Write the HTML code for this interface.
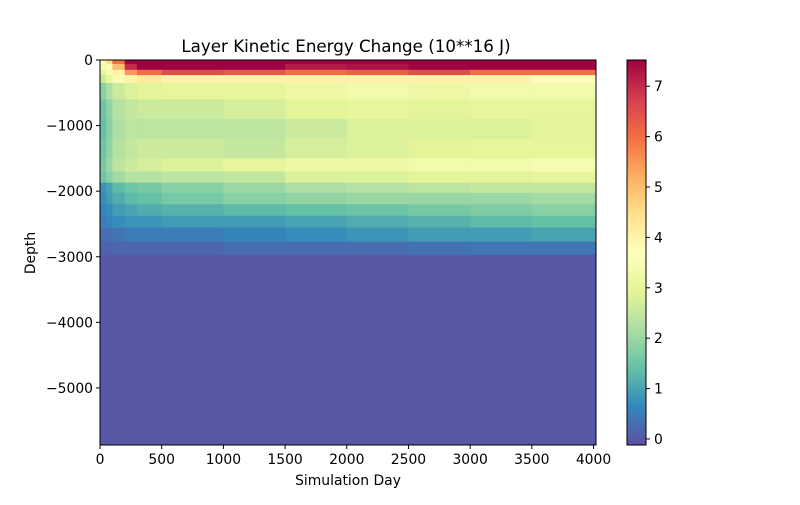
<!DOCTYPE html>
<html><head><meta charset="utf-8">
<style>
body{margin:0;background:#fff;}
svg text{font-family:"DejaVu Sans","Liberation Sans",sans-serif;font-size:13.9px;fill:#000;}
</style></head>
<body>
<svg id="chart" width="800" height="500" xmlns="http://www.w3.org/2000/svg">
<defs>
<linearGradient id="cbgrad" x1="0" y1="1" x2="0" y2="0">
<stop offset="0" stop-color="#5e4fa2"/><stop offset="0.1" stop-color="#3288bd"/>
<stop offset="0.2" stop-color="#66c2a5"/><stop offset="0.3" stop-color="#abdda4"/>
<stop offset="0.4" stop-color="#e6f598"/><stop offset="0.5" stop-color="#ffffbf"/>
<stop offset="0.6" stop-color="#fee08b"/><stop offset="0.7" stop-color="#fdae61"/>
<stop offset="0.8" stop-color="#f46d43"/><stop offset="0.9" stop-color="#d53e4f"/>
<stop offset="1" stop-color="#9e0142"/>
</linearGradient>
</defs>
<g id="cells"></g>
<g id="axes"></g>
<text x="346" y="52" text-anchor="middle" style="font-size:16.7px">Layer Kinetic Energy  Change (10**16 J)</text>
<text x="348" y="485" text-anchor="middle">Simulation Day</text>
<text x="35" y="253" text-anchor="middle" transform="rotate(-90 35 253)">Depth</text>
<rect x="627" y="60" width="19" height="385" fill="url(#cbgrad)" stroke="#000" stroke-width="1"/>
<g id="cbticks"></g>
</svg>
<script>
const timeEdges=[0,50,100,200,300,500,1000,1500,2000,2500,3000,3500,4020];
const depthEdges=[0,60,150,230,350,600,900,1200,1500,1700,1870,2025,2200,2375,2555,2770,2970,5870];
const values=[
[3.6,4.5,6,7.5,7.5,7.5,7.5,7.5,7.5,7.5,7.5,7.5],
[3.4,3.8,5,7,7.5,7.5,7.5,7.2,7.3,7.5,7.5,7.5],
[3,3.4,4,5.5,6,6.5,6.3,6,6.2,6.5,6,6],
[2.6,3,3.5,4,4.2,4,4,4,4,4,4,3.8],
[1.8,2.2,2.6,2.8,2.9,3,3,3.2,3.3,3.2,3.3,3.3],
[1.5,1.9,2.3,2.5,2.6,2.6,2.7,2.9,3,2.9,3,3],
[1.4,1.8,2.2,2.4,2.4,2.4,2.4,2.6,2.8,2.8,2.8,2.9],
[1.5,1.9,2.3,2.5,2.6,2.6,2.5,2.7,2.8,2.9,3,3],
[1.6,2,2.4,2.6,2.7,2.8,3,3.2,3.2,3.3,3.3,3.4],
[1.5,1.8,2.1,2.3,2.3,2.4,2.5,2.8,2.8,2.9,2.9,3],
[0.8,1,1.3,1.5,1.6,1.8,2,2.2,2.3,2.4,2.5,2.5],
[0.7,0.9,1.1,1.3,1.4,1.6,1.8,1.9,2,2,2,2.1],
[0.6,0.7,0.9,1,1.1,1.2,1.3,1.4,1.5,1.6,1.7,1.8],
[0.5,0.6,0.7,0.8,0.8,0.9,0.9,1,1.1,1.2,1.3,1.4],
[0.3,0.3,0.4,0.5,0.5,0.5,0.6,0.7,0.8,0.9,0.9,1],
[0.15,0.15,0.2,0.2,0.2,0.2,0.3,0.3,0.3,0.35,0.4,0.4],
[0,0,0,0,0,0,0,0,0,0,0,0]
];
const xTicks=[0,500,1000,1500,2000,2500,3000,3500,4000];
const yTicks=[0,-1000,-2000,-3000,-4000,-5000];
const cbTicks=[0,1,2,3,4,5,6,7];
const NS="http://www.w3.org/2000/svg";
const X0=100,X1=596,Y0=60,Y1=445;
const xScale=d=>X0+d*(X1-X0)/4020;
const yScale=z=>Y0+(-z)*(Y1-Y0)/5870;
const VMIN=-0.12,VMAX=7.52;
const cScale=v=>445-(v-VMIN)*385/(VMAX-VMIN);
const stops=["#5e4fa2","#3288bd","#66c2a5","#abdda4","#e6f598","#ffffbf","#fee08b","#fdae61","#f46d43","#d53e4f","#9e0142"];
function hex(h){return [1,3,5].map(i=>parseInt(h.substr(i,2),16));}
function cmap(v){let t=(v-VMIN)/(VMAX-VMIN);t=Math.max(0,Math.min(1,t))*10;const i=Math.min(9,Math.floor(t));const f=t-i;const a=hex(stops[i]),b=hex(stops[i+1]);return "rgb("+a.map((c,k)=>Math.round(c+(b[k]-c)*f)).join(",")+")";}
function mk(tag,attrs,parent){const e=document.createElementNS(NS,tag);for(const k in attrs)e.setAttribute(k,attrs[k]);parent.appendChild(e);return e;}
const cells=document.getElementById("cells");
values.forEach((row,li)=>{row.forEach((v,ti)=>{
 const x=xScale(timeEdges[ti]),x2=xScale(timeEdges[ti+1]);
 const y=yScale(-depthEdges[li]),y2=yScale(-depthEdges[li+1]);
 const r=mk("rect",{x:x,y:y,width:x2-x+0.5,height:y2-y+0.5,fill:cmap(v)},cells);
 
 
});});
const axes=document.getElementById("axes");
const fr=mk("rect",{x:X0,y:Y0,width:X1-X0,height:Y1-Y0,fill:"none",stroke:"#000","stroke-width":1},axes);


xTicks.forEach(t=>{const x=xScale(t);
 mk("line",{x1:x,y1:Y1,x2:x,y2:Y1+4,stroke:"#000"},axes);
 const tx=mk("text",{x:x,y:Y1+19,"text-anchor":"middle"},axes);tx.textContent=t;
 
 
});
yTicks.forEach(t=>{const y=yScale(t);
 mk("line",{x1:X0-4,y1:y,x2:X0,y2:y,stroke:"#000"},axes);
 const tx=mk("text",{x:X0-7,y:y+5,"text-anchor":"end"},axes);tx.textContent=t===0?"0":"\u2212"+(-t);
 
 
});
const cbt=document.getElementById("cbticks");
cbTicks.forEach(t=>{const y=cScale(t);
 mk("line",{x1:646,y1:y,x2:650,y2:y,stroke:"#000"},cbt);
 const tx=mk("text",{x:654,y:y+5},cbt);tx.textContent=t;
 
 
});
</script>
</body></html>
